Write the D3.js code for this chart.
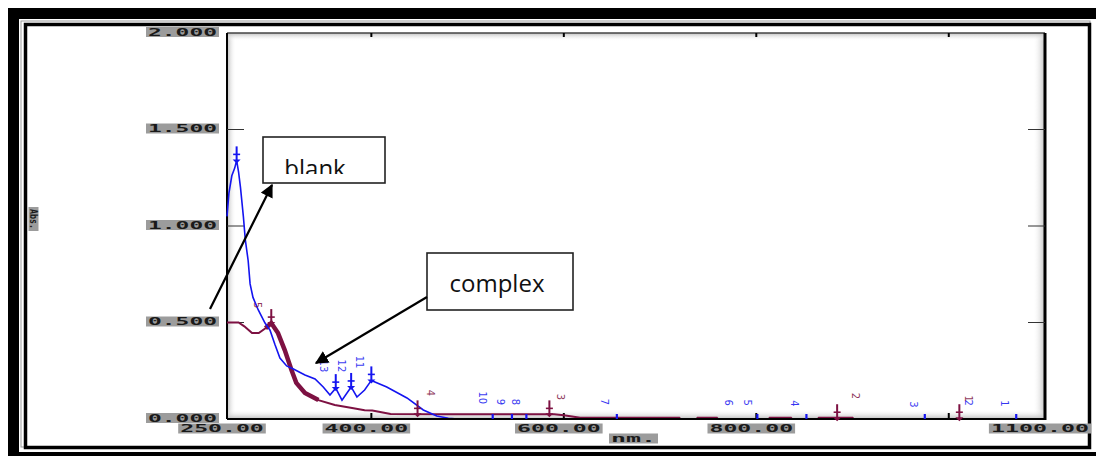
<!DOCTYPE html>
<html>
<head>
<meta charset="utf-8">
<script src="https://cdn.jsdelivr.net/npm/d3@7"></script>
<style>
  body { margin: 0; background: #fff; }
  svg { display: block; }
</style>
</head>
<body>
<div id="vis"></div>
<script>
// spectrum of the blank (blue) : [nm, absorbance]
const BLANK = [
  [250, 1.05], [252, 1.17], [255, 1.26], [258, 1.30], [260, 1.34], [262, 1.28],
  [264, 1.20], [267, 1.05], [269, 0.93], [272, 0.82], [274, 0.70], [277, 0.63],
  [282.5, 0.565], [289.5, 0.497], [294.7, 0.46], [300, 0.383], [305, 0.316],
  [312, 0.275], [319, 0.259], [331, 0.228], [341.5, 0.207], [350, 0.166],
  [357, 0.124], [363, 0.16], [369.5, 0.098], [379, 0.166], [385, 0.114],
  [393, 0.15], [400, 0.20], [416, 0.166], [437, 0.109], [454, 0.047],
  [468, 0.016], [480, 0.004], [490, 0], [1100, 0]
];

// spectrum of the complex (maroon)
const COMPLEX = [
  [250, 0.50], [262, 0.50], [268, 0.48], [276, 0.445], [283, 0.445], [290, 0.47],
  [296, 0.497], [303, 0.445], [310, 0.357], [317, 0.254], [322, 0.187],
  [331, 0.135], [345, 0.098], [362, 0.073], [380, 0.057], [393, 0.045],
  [401, 0.044], [420, 0.026], [480, 0.024], [590, 0.024], [600, 0.02],
  [617, 0.006], [720, 0.006], [721, 0], [738, 0], [739, 0.006], [759, 0.006],
  [760, 0], [813, 0], [814, 0.006], [836, 0.006], [837, 0], [864, 0],
  [865, 0.006], [900, 0.006], [901, 0], [1100, 0]
];

// thicker part of the complex trace
const COMPLEX_THICK = [290, 346];

// peak pick marks
const BLANK_PEAKS = [[260, 1.34], [363, 0.16], [379, 0.166], [400, 0.20]];
const BLANK_BASE_TICKS = [526, 546, 561, 655, 801, 852, 975, 1070];
const COMPLEX_PEAKS = [[296, 0.497], [448, 0.024], [585, 0.024], [884, 0.004], [1011, 0.004]];

// peak number labels : [nm, absorbance, text]
const BLANK_LABELS = [
  [350, 0.275, "13"], [368.5, 0.275, "12"], [388, 0.295, "11"],
  [515, 0.11, "10"], [533.7, 0.088, "9"], [550, 0.088, "8"], [642, 0.088, "7"],
  [770.6, 0.085, "6"], [791, 0.085, "5"], [840, 0.08, "4"], [963, 0.075, "3"],
  [1021, 0.085, "2"], [1058, 0.08, "1"]
];
const COMPLEX_LABELS = [
  [282, 0.59, "5"], [461, 0.135, "4"], [597, 0.114, "3"], [903, 0.12, "2"], [1021, 0.105, "1"]
];

// axis ticks
const X_LABELS = [250, 400, 600, 800, 1100];
const X_TICKS = [400, 600, 800, 1000];
const Y_LABELS = [0, 0.5, 1.0, 1.5, 2.0];
const Y_TICKS = [0.5, 1.0, 1.5];

const WIDTH = 1096, HEIGHT = 456;
const PLOT = {left: 227, right: 1045, top: 33, bottom: 419};

const BLUE = "#1414f0";
const MAROON = "#7d1142";

const svg = d3.select("#vis").append("svg")
  .attr("width", WIDTH).attr("height", HEIGHT);

const defs = svg.append("defs");

// x and y scales
const X_SCALE = d3.scaleLinear().domain([250, 1100]).range([PLOT.left, PLOT.right]);
const Y_SCALE = d3.scaleLinear().domain([0, 2]).range([PLOT.bottom, PLOT.top]);

// frames
svg.append("rect").attr("x", 13.5).attr("y", 13.5)
  .attr("width", 1100).attr("height", 444)
  .attr("fill", "none").attr("stroke", "#000").attr("stroke-width", 11);
svg.append("rect").attr("x", 21).attr("y", 21)
  .attr("width", 1069).attr("height", 426)
  .attr("fill", "none").attr("stroke", "#999").attr("stroke-width", 1);
svg.append("rect").attr("x", 25.5).attr("y", 24.5)
  .attr("width", 1064).attr("height", 423)
  .attr("fill", "none").attr("stroke", "#000").attr("stroke-width", 3.5);

// shaded edges inside plot box
function shade(id, x1, y1, x2, y2) {
  const g = defs.append("linearGradient").attr("id", id)
    .attr("x1", x1).attr("y1", y1).attr("x2", x2).attr("y2", y2);
  g.append("stop").attr("offset", "0%").attr("stop-color", "#bdbdbd");
  g.append("stop").attr("offset", "100%").attr("stop-color", "#fff").attr("stop-opacity", 0);
}
shade("shL", 0, 0, 1, 0);
shade("shR", 1, 0, 0, 0);
shade("shB", 0, 1, 0, 0);
shade("shT", 0, 0, 0, 1);
svg.append("rect").attr("x", PLOT.left).attr("y", PLOT.top).attr("width", 9)
  .attr("height", PLOT.bottom - PLOT.top).attr("fill", "url(#shL)");
svg.append("rect").attr("x", PLOT.right - 12).attr("y", PLOT.top).attr("width", 12)
  .attr("height", PLOT.bottom - PLOT.top).attr("fill", "url(#shR)");
svg.append("rect").attr("x", PLOT.left).attr("y", PLOT.bottom - 10)
  .attr("width", PLOT.right - PLOT.left).attr("height", 10).attr("fill", "url(#shB)");
svg.append("rect").attr("x", PLOT.left).attr("y", PLOT.top)
  .attr("width", PLOT.right - PLOT.left).attr("height", 8).attr("fill", "url(#shT)");

// plot box
svg.append("line").attr("x1", PLOT.left).attr("x2", PLOT.right)
  .attr("y1", PLOT.top).attr("y2", PLOT.top).attr("stroke", "#444").attr("stroke-width", 1.5);
svg.append("line").attr("x1", PLOT.left).attr("x2", PLOT.left)
  .attr("y1", PLOT.top).attr("y2", PLOT.bottom).attr("stroke", "#000").attr("stroke-width", 2);
svg.append("line").attr("x1", PLOT.right).attr("x2", PLOT.right)
  .attr("y1", PLOT.top).attr("y2", PLOT.bottom + 1).attr("stroke", "#000").attr("stroke-width", 3);

// y ticks left and right
svg.selectAll(".ytl").data(Y_TICKS).enter().append("line")
  .attr("x1", PLOT.left).attr("x2", PLOT.left + 17)
  .attr("y1", d => Y_SCALE(d)).attr("y2", d => Y_SCALE(d))
  .attr("stroke", "#333").attr("stroke-width", 1);
svg.selectAll(".ytr").data(Y_TICKS).enter().append("line")
  .attr("x1", PLOT.right - 17).attr("x2", PLOT.right)
  .attr("y1", d => Y_SCALE(d)).attr("y2", d => Y_SCALE(d))
  .attr("stroke", "#333").attr("stroke-width", 1);

// x ticks top and bottom
svg.selectAll(".xtt").data(X_TICKS).enter().append("line")
  .attr("x1", d => X_SCALE(d)).attr("x2", d => X_SCALE(d))
  .attr("y1", PLOT.top).attr("y2", PLOT.top + 4)
  .attr("stroke", "#000").attr("stroke-width", 2);
svg.selectAll(".xtb").data(X_TICKS).enter().append("line")
  .attr("x1", d => X_SCALE(d)).attr("x2", d => X_SCALE(d))
  .attr("y1", PLOT.bottom - 6).attr("y2", PLOT.bottom)
  .attr("stroke", "#000").attr("stroke-width", 2);

// curves
const line = d3.line().x(d => X_SCALE(d[0])).y(d => Y_SCALE(d[1]));

svg.append("path").datum(COMPLEX).attr("d", line)
  .attr("fill", "none").attr("stroke", MAROON).attr("stroke-width", 2);
svg.append("path")
  .datum(COMPLEX.filter(d => d[0] >= COMPLEX_THICK[0] && d[0] <= COMPLEX_THICK[1]))
  .attr("d", line)
  .attr("fill", "none").attr("stroke", MAROON).attr("stroke-width", 4.5);
svg.append("path").datum(BLANK).attr("d", line)
  .attr("fill", "none").attr("stroke", BLUE).attr("stroke-width", 1.6);

// bottom axis line over the curves
svg.append("line").attr("x1", PLOT.left).attr("x2", PLOT.right)
  .attr("y1", PLOT.bottom).attr("y2", PLOT.bottom).attr("stroke", "#000").attr("stroke-width", 2);

// peak marks (cross on a stem)
function peakMarks(data, color, cls) {
  const g = svg.selectAll("." + cls).data(data).enter().append("g")
    .attr("transform", d => "translate(" + X_SCALE(d[0]) + "," + Y_SCALE(d[1]) + ")");
  g.append("line").attr("x1", 0).attr("x2", 0).attr("y1", -14).attr("y2", 1)
    .attr("stroke", color).attr("stroke-width", 2);
  g.append("line").attr("x1", -3.5).attr("x2", 3.5).attr("y1", -6).attr("y2", -6)
    .attr("stroke", color).attr("stroke-width", 1.6);
  g.append("path").attr("d", "M-4,-1 L0,3 L4,-1 Z").attr("fill", color);
}
peakMarks(BLANK_PEAKS, BLUE, "bpk");
peakMarks(COMPLEX_PEAKS, MAROON, "cpk");

svg.selectAll(".bbt").data(BLANK_BASE_TICKS).enter().append("rect")
  .attr("x", d => X_SCALE(d) - 1).attr("y", PLOT.bottom - 5)
  .attr("width", 2.2).attr("height", 5).attr("fill", BLUE);

// peak number labels (rotated)
function peakLabels(data, color, cls) {
  svg.selectAll("." + cls).data(data).enter().append("text")
    .attr("transform", d => "translate(" + X_SCALE(d[0]) + "," + Y_SCALE(d[1]) + ") rotate(90)")
    .attr("text-anchor", "middle").attr("dy", "0.35em")
    .attr("font-family", "DejaVu Sans").attr("font-size", 10)
    .attr("fill", color).attr("opacity", 0.85)
    .text(d => d[2]);
}
peakLabels(BLANK_LABELS, BLUE, "blb");
peakLabels(COMPLEX_LABELS, MAROON, "clb");

// grey boxed labels
function boxLabel(cx, cy, w, txt, rot) {
  const g = svg.append("g").attr("transform", "translate(" + cx + "," + cy + ")" + (rot ? " rotate(" + rot + ")" : ""));
  g.append("rect").attr("x", -w / 2).attr("y", -5).attr("width", w).attr("height", 10)
    .attr("fill", "#9c9c9c");
  g.append("text").attr("x", -w / 2 + 2).attr("y", 3.8)
    .attr("textLength", w - 4).attr("lengthAdjust", "spacingAndGlyphs")
    .attr("font-family", "DejaVu Sans Mono").attr("font-weight", "bold")
    .attr("font-size", 10).attr("fill", "#1a1a1a")
    .text(txt);
}
Y_LABELS.forEach(v => boxLabel(182.5, Y_SCALE(v) - 1, 73, v.toFixed(3)));
X_LABELS.forEach(v => {
  const txt = v.toFixed(2);
  const w = txt.length * 14.6;
  boxLabel(X_SCALE(v) - 5, 428.5, w, txt);
});
boxLabel(633.5, 438.5, 49, "nm.");
boxLabel(33.5, 219, 24, "Abs.", 90);

// annotation boxes
defs.append("clipPath").attr("id", "clipBlank").append("rect")
  .attr("x", 263).attr("y", 137).attr("width", 122).attr("height", 37);

svg.append("rect").attr("x", 263).attr("y", 137).attr("width", 122).attr("height", 46)
  .attr("fill", "#fff").attr("stroke", "#222").attr("stroke-width", 1.6);
svg.append("text").attr("x", 315).attr("y", 177).attr("text-anchor", "middle")
  .attr("clip-path", "url(#clipBlank)")
  .attr("font-family", "Open Sans").attr("font-size", 24).attr("fill", "#111")
  .text("blank");

svg.append("rect").attr("x", 427).attr("y", 253).attr("width", 146).attr("height", 57)
  .attr("fill", "#fff").attr("stroke", "#222").attr("stroke-width", 1.6);
svg.append("text").attr("x", 497).attr("y", 292).attr("text-anchor", "middle")
  .attr("font-family", "Open Sans").attr("font-size", 24).attr("fill", "#111")
  .text("complex");

// arrows
defs.append("marker").attr("id", "arrow").attr("viewBox", "0 0 10 10")
  .attr("refX", 9).attr("refY", 5).attr("markerWidth", 6).attr("markerHeight", 6)
  .attr("markerUnits", "strokeWidth").attr("orient", "auto")
  .append("path").attr("d", "M0,0 L10,5 L0,10 Z").attr("fill", "#000");

svg.append("line").attr("x1", 210).attr("y1", 309).attr("x2", 272).attr("y2", 185)
  .attr("stroke", "#000").attr("stroke-width", 2.2).attr("marker-end", "url(#arrow)");
svg.append("line").attr("x1", 427).attr("y1", 297).attr("x2", 316).attr("y2", 363)
  .attr("stroke", "#000").attr("stroke-width", 2.2).attr("marker-end", "url(#arrow)");
</script>
</body>
</html>
